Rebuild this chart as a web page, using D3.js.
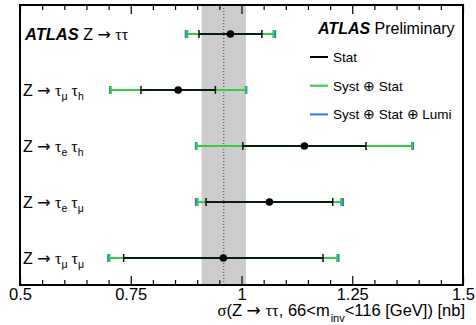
<!DOCTYPE html>
<html>
<head>
<meta charset="utf-8">
<script src="https://cdn.jsdelivr.net/npm/d3@7"></script>
<style>
  body { margin: 0; background: #fff; }
  svg { display: block; }
  text { font-family: "Liberation Sans", Arial, Helvetica, sans-serif; fill: #000; }
</style>
</head>
<body>
<svg id="chart" width="476" height="325"></svg>
<script>
// Measured Z -> tautau cross sections per channel (nb)
const channels = ["comb", "muhad", "ehad", "emu", "mumu"];
const centralValues = [0.975, 0.857, 1.142, 1.063, 0.959];
const statErrors = [0.071, 0.084, 0.139, 0.143, 0.225];
const systStatErrors = [0.097, 0.152, 0.243, 0.162, 0.257];
const totalErrors = [0.101, 0.154, 0.245, 0.166, 0.260];

// Theory prediction and its uncertainty band
const theoryValue = 0.96;
const theoryError = 0.05;

// Axis ticks
const majorTicks = [0.5, 0.75, 1, 1.25, 1.5];
const majorTickLabels = ["0.5", "0.75", "1", "1.25", "1.5"];

// Channel labels as rich-text segments: [text, style]
// style: "b" bold italic, "n" normal, "a" arrow, "g" greek, "s" subscript
const channelLabels = [
  [["ATLAS", "b"], [" Z ", "n"], ["\u2192", "a"], [" ", "n"], ["\u03c4\u03c4", "g"]],
  [["Z ", "n"], ["\u2192", "a"], [" ", "n"], ["\u03c4", "g"], ["\u03bc", "s"], [" \u03c4", "g"], ["h", "s"]],
  [["Z ", "n"], ["\u2192", "a"], [" ", "n"], ["\u03c4", "g"], ["e", "s"], [" \u03c4", "g"], ["h", "s"]],
  [["Z ", "n"], ["\u2192", "a"], [" ", "n"], ["\u03c4", "g"], ["e", "s"], [" \u03c4", "g"], ["\u03bc", "s"]],
  [["Z ", "n"], ["\u2192", "a"], [" ", "n"], ["\u03c4", "g"], ["\u03bc", "s"], [" \u03c4", "g"], ["\u03bc", "s"]]
];

const legendLabels = ["Stat", "Syst \u2295 Stat", "Syst \u2295 Stat \u2295 Lumi"];
const colStat = "#000000", colSyst = "#33cc44", colLumi = "#2f74e8";
const legendColors = [colStat, colSyst, colLumi];

const svg = d3.select("#chart");
const frame = { left: 20, top: 5, right: 463, bottom: 285 };

const x = d3.scaleLinear().domain([0.5, 1.5]).range([frame.left, frame.right]);
const y = d3.scalePoint().domain(channels).range([34, 258]);

// Theory band and central line
svg.append("rect")
  .attr("x", x(theoryValue - theoryError))
  .attr("y", frame.top)
  .attr("width", x(theoryValue + theoryError) - x(theoryValue - theoryError))
  .attr("height", frame.bottom - frame.top)
  .attr("fill", "#cccccc");
svg.append("line")
  .attr("x1", x(theoryValue)).attr("x2", x(theoryValue))
  .attr("y1", frame.top).attr("y2", frame.bottom)
  .attr("stroke", "#8b2a2a").attr("stroke-width", 1)
  .attr("stroke-dasharray", "1,2");

const rows = channels.map((c, i) => ({
  c, v: centralValues[i], stat: statErrors[i], syst: systStatErrors[i], tot: totalErrors[i]
}));

const g = svg.append("g");
const capH = 8;

function hline(sel, err, color, w, op) {
  sel.append("line")
    .attr("x1", d => x(d.v - err(d))).attr("x2", d => x(d.v + err(d)))
    .attr("y1", d => y(d.c)).attr("y2", d => y(d.c))
    .attr("stroke", color).attr("stroke-width", w)
    .attr("stroke-opacity", op);
}
function caps(sel, err, color, w) {
  [-1, 1].forEach(s => {
    sel.append("rect")
      .attr("x", d => x(d.v + s * err(d)) - w / 2)
      .attr("y", d => y(d.c) - capH / 2)
      .attr("width", w).attr("height", capH)
      .attr("fill", color);
  });
}

const rowG = g.selectAll("g.row").data(rows).join("g").attr("class", "row");
hline(rowG, d => d.tot, colLumi, 2, 1);
hline(rowG, d => d.syst, colSyst, 2, 1);
hline(rowG, d => d.stat, colStat, 2, 0.85);
caps(rowG, d => d.tot, colLumi, 2);
caps(rowG, d => d.syst, colSyst, 2);
caps(rowG, d => d.stat, "#111", 1.5);
rowG.append("circle")
  .attr("cx", d => x(d.v)).attr("cy", d => y(d.c))
  .attr("r", 3.8).attr("fill", "#000");

// Axes: ticks point inward on top and bottom
const minorTicks = x.ticks(20).filter(t => !majorTicks.some(m => Math.abs(m - t) < 1e-9));

const bottomAxis = svg.append("g").attr("transform", `translate(0,${frame.bottom})`);
bottomAxis.append("g")
  .call(d3.axisBottom(x).tickValues(minorTicks).tickSize(-5).tickFormat(""))
  .call(a => a.select(".domain").remove());
bottomAxis.append("g")
  .call(d3.axisBottom(x).tickValues(majorTicks).tickSize(-9).tickPadding(3)
    .tickFormat((d, i) => majorTickLabels[i]))
  .call(a => a.select(".domain").remove())
  .call(a => a.selectAll("text").attr("font-size", 16.5)
    .attr("font-family", "Liberation Sans, Arial, sans-serif"));

const topAxis = svg.append("g").attr("transform", `translate(0,${frame.top})`);
topAxis.append("g")
  .call(d3.axisBottom(x).tickValues(minorTicks).tickSize(5).tickFormat(""))
  .call(a => a.select(".domain").remove());
topAxis.append("g")
  .call(d3.axisBottom(x).tickValues(majorTicks).tickSize(9).tickFormat(""))
  .call(a => a.select(".domain").remove());
svg.selectAll(".tick line").attr("stroke", "#000").attr("stroke-width", 1.2);

// Frame
svg.append("rect")
  .attr("x", frame.left).attr("y", frame.top)
  .attr("width", frame.right - frame.left).attr("height", frame.bottom - frame.top)
  .attr("fill", "none").attr("stroke", "#000").attr("stroke-width", 2);

const arrowFont = "DejaVu Sans, sans-serif";
const greekFont = "Liberation Serif, serif";

// Axis title
const title = svg.append("text")
  .attr("x", 465).attr("y", 316).attr("text-anchor", "end").attr("font-size", 16.5);
title.append("tspan").attr("font-family", greekFont).text("\u03c3");
title.append("tspan").text("(Z ");
title.append("tspan").attr("font-family", arrowFont).attr("font-size", 17).text("\u2192");
title.append("tspan").text(" ");
title.append("tspan").attr("font-family", greekFont).text("\u03c4\u03c4");
title.append("tspan").text(", 66<m");
title.append("tspan").attr("font-size", 11).attr("dy", 6).attr("dx", 1).text("inv");
title.append("tspan").attr("dy", -6).text("<116 [GeV]) [nb]");

// Channel labels
channelLabels.forEach((parts, i) => {
  const t = svg.append("text")
    .attr("x", i === 0 ? 25 : 23)
    .attr("y", y(channels[i]) + 6)
    .attr("font-size", 16.5);
  let shifted = 0;
  parts.forEach(([txt, style]) => {
    const sp = t.append("tspan").text(txt);
    let dy = 0;
    if (style === "s") {
      sp.attr("font-size", 10.5);
      dy = 4 - shifted; shifted = 4;
    } else {
      dy = -shifted; shifted = 0;
      if (style === "n") sp.attr("font-size", 16);
      if (style === "b") sp.attr("font-weight", "bold").attr("font-style", "italic");
      if (style === "a") sp.attr("font-family", arrowFont).attr("font-size", 16);
      if (style === "g") sp.attr("font-family", greekFont).attr("font-size", 16);
    }
    if (dy) sp.attr("dy", dy);
  });
});

// Experiment label
const atl = svg.append("text").attr("x", 318).attr("y", 34).attr("font-size", 16);
atl.append("tspan").attr("font-weight", "bold").attr("font-style", "italic").text("ATLAS");
atl.append("tspan").text(" Preliminary");

// Legend
const leg = svg.append("g").selectAll("g").data(legendLabels).join("g")
  .attr("transform", (d, i) => `translate(310,${57 + i * 28.7})`);
leg.append("line").attr("x1", 0).attr("x2", 18).attr("y1", 0).attr("y2", 0)
  .attr("stroke", (d, i) => legendColors[i]).attr("stroke-width", 2);
leg.append("text").attr("x", 23).attr("y", 5).attr("font-size", 13.5).text(d => d);
</script>
</body>
</html>
